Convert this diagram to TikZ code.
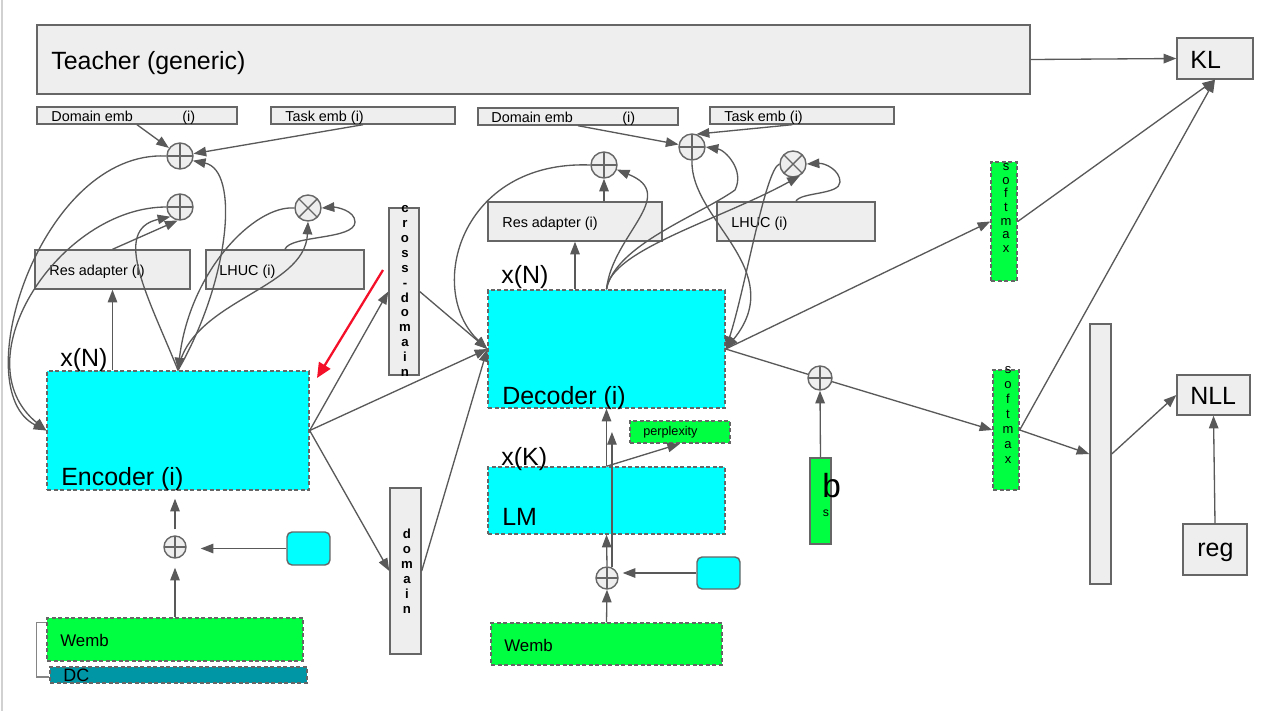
\documentclass[tikz,border=0pt]{standalone}
\usepackage{fontspec}
\setmainfont{Liberation Sans}
\usetikzlibrary{arrows.meta,calc}
\definecolor{lfill}{HTML}{EEEEEE}
\definecolor{bgray}{HTML}{666666}
\definecolor{agray}{HTML}{595959}
\definecolor{cyanc}{HTML}{00FFFF}
\definecolor{greenc}{HTML}{00FF40}
\definecolor{tealc}{HTML}{0096A5}
\definecolor{redc}{HTML}{F5102A}
\begin{document}
\begin{tikzpicture}[x=0.02cm,y=-0.02cm,
 box/.style={draw=bgray, line width=0.8pt, fill=lfill, inner sep=0, rectangle},
 dbox/.style={draw=bgray, line width=0.8pt, dash pattern=on 2.4pt off 1.3pt, inner sep=0, rectangle},
 arr/.style={draw=agray, line width=0.75pt, -{Triangle[length=7.2pt,width=5.4pt]}},
 ln/.style={draw=agray, line width=0.75pt},
 redarr/.style={draw=redc, line width=1.3pt, -{Triangle[length=8.5pt,width=7.5pt]}},
 big/.style={font=\fontsize{14.2}{17}\selectfont, inner sep=0, anchor=base west},
 sm/.style={font=\fontsize{8.2}{10}\selectfont, inner sep=0, anchor=base west},
 mid/.style={font=\fontsize{9.6}{11}\selectfont, inner sep=0, anchor=base west},
 vbold/.style={font=\fontsize{7.5}{8.5}\selectfont\bfseries, align=center, inner sep=0},
 circ/.style={circle, draw=bgray, fill=lfill, line width=0.8pt, inner sep=0, minimum size=0.52cm},
 oplus/.style={circ, path picture={\draw[bgray, line width=0.8pt] (path picture bounding box.north) -- (path picture bounding box.south) (path picture bounding box.west) -- (path picture bounding box.east);}},
 otimes/.style={circ, path picture={\draw[bgray, line width=0.8pt] (path picture bounding box.north west) -- (path picture bounding box.south east) (path picture bounding box.north east) -- (path picture bounding box.south west);}},
]
\useasboundingbox (0,0) rectangle (1285,711);
\fill[white] (0,0) rectangle (1285,711);
\draw[black!18, line width=0.8pt] (2,0) -- (2,711);

% top row
\node[box, minimum width=19.86cm, minimum height=1.38cm] (teacher) at (533.5,59.5) {};
\node[big] (teachert) at (51,69) {Teacher (generic)};
\node[box, minimum width=1.52cm, minimum height=0.82cm] (kl) at (1215,58.5) {};
\node[big] (klt) at (1190,68) {KL};

\node[box, minimum width=4cm, minimum height=0.34cm] (domL) at (137,115.5) {};
\node[sm] (domLt) at (51,121) {Domain emb};
\node[sm] (domLi) at (182,121) {(i)};
\node[box, minimum width=3.68cm, minimum height=0.34cm] (taskL) at (363,115.5) {};
\node[sm] (taskLt) at (285,121) {Task emb (i)};
\node[box, minimum width=4cm, minimum height=0.34cm] (domR) at (578,116.5) {};
\node[sm] (domRt) at (491,122) {Domain emb};
\node[sm] (domRi) at (622,122) {(i)};
\node[box, minimum width=3.68cm, minimum height=0.34cm] (taskR) at (802,115.5) {};
\node[sm] (taskRt) at (724,121) {Task emb (i)};

% circles
\node[oplus] (o1) at (180,156) {};
\node[oplus] (o2) at (180,207) {};
\node[otimes] (x1) at (308,208) {};
\node[oplus] (o3) at (604,165) {};
\node[oplus] (o4) at (692,147) {};
\node[otimes] (x2) at (793,164) {};
\node[oplus, minimum size=0.44cm] (oe) at (175,547) {};
\node[oplus, minimum size=0.44cm] (od) at (607,578) {};
\node[oplus, minimum size=0.48cm] (ob) at (820,378) {};

% adapters
\node[box, minimum width=3.1cm, minimum height=0.78cm] (resL) at (112.5,269.5) {};
\node[sm] (resLt) at (49,275) {Res adapter (i)};
\node[box, minimum width=3.16cm, minimum height=0.78cm] (lhucL) at (285,269.5) {};
\node[sm] (lhucLt) at (219,275) {LHUC (i)};
\node[box, minimum width=3.48cm, minimum height=0.78cm] (resR) at (575,221.5) {};
\node[sm] (resRt) at (502,227) {Res adapter (i)};
\node[box, minimum width=3.16cm, minimum height=0.78cm] (lhucR) at (796,221.5) {};
\node[sm] (lhucRt) at (731,227) {LHUC (i)};

% vertical boxes
\node[box, minimum width=0.6cm, minimum height=3.34cm] (cross) at (404,291.5) {};
\node[vbold] (crosst) at (405,291) {c\\r\\o\\s\\s\\-\\d\\o\\m\\a\\i\\n};
\node[box, minimum width=0.62cm, minimum height=3.32cm] (domain) at (405.5,571) {};
\node[vbold] (domaint) at (407,571) {d\\o\\m\\a\\i\\n};

% encoder / decoder / LM
\node[dbox, fill=cyanc, minimum width=5.24cm, minimum height=2.38cm] (enc) at (178,430.5) {};
\node[big] (encN) at (60,366) {x(N)};
\node[big] (enct) at (61,485) {Encoder (i)};
\node[dbox, fill=cyanc, minimum width=4.74cm, minimum height=2.36cm] (dec) at (606.5,349) {};
\node[big] (decN) at (501,283) {x(N)};
\node[big] (dect) at (502,404) {Decoder (i)};
\node[dbox, fill=cyanc, minimum width=4.74cm, minimum height=1.34cm] (lm) at (606.5,500.5) {};
\node[big] (lmK) at (501,465) {x(K)};
\node[big] (lmt) at (502,525) {LM};
\node[dbox, fill=greenc, minimum width=2cm, minimum height=0.44cm] (perp) at (680,432) {};
\node[font=\fontsize{7.2}{9}\selectfont, inner sep=0, anchor=west] (perpt) at (643,432.5) {perplexity};

% embeddings
\node[dbox, fill=greenc, minimum width=5.12cm, minimum height=0.86cm] (wembL) at (175,639.5) {};
\node[mid] (wembLt) at (60,646) {Wemb};
\node[dbox, fill=tealc, minimum width=5.14cm, minimum height=0.32cm] (dc) at (178.5,675) {};
\node[font=\fontsize{10.2}{12}\selectfont, inner sep=0, anchor=base west] (dct) at (63,681.5) {DC};
\node[draw=bgray, line width=0.8pt, fill=cyanc, rounded corners=0.1cm, minimum width=0.86cm, minimum height=0.66cm, inner sep=0] (cyanL) at (308.5,548.5) {};
\node[dbox, fill=greenc, minimum width=4.62cm, minimum height=0.84cm] (wembR) at (606.5,644) {};
\node[mid] (wembRt) at (504,651) {Wemb};
\node[draw=bgray, line width=0.8pt, fill=cyanc, rounded corners=0.1cm, minimum width=0.86cm, minimum height=0.64cm, inner sep=0] (cyanR) at (718.5,573) {};

% bias
\node[box, fill=greenc, minimum width=0.42cm, minimum height=1.72cm] (bs) at (820.5,501) {};
\node[font=\fontsize{19}{22}\selectfont, inner sep=0, anchor=base west] (bt) at (822,497) {b};
\node[font=\fontsize{7}{8}\selectfont, inner sep=0] (st) at (826,513) {s};

% softmax and losses
\node[dbox, fill=greenc, minimum width=0.52cm, minimum height=2.38cm] (sm1) at (1004,221.5) {};
\node[font=\fontsize{7.4}{7.8}\selectfont, align=center, inner sep=0] (sm1t) at (1006,208) {s\\o\\f\\t\\m\\a\\x};
\node[dbox, fill=greenc, minimum width=0.52cm, minimum height=2.4cm] (sm2) at (1006,430) {};
\node[font=\fontsize{7.4}{8.5}\selectfont, align=center, inner sep=0] (sm2t) at (1008,415) {s\\o\\f\\t\\m\\a\\x};
\node[box, minimum width=0.42cm, minimum height=5.2cm] (tall) at (1100.5,454) {};
\node[box, minimum width=1.46cm, minimum height=0.8cm] (nll) at (1213.5,395) {};
\node[big] (nllt) at (1190,404) {NLL};
\node[box, minimum width=1.28cm, minimum height=1.02cm] (reg) at (1215,549.5) {};
\node[big] (regt) at (1197,556) {reg};

% bracket
\draw[bgray!80, line width=0.6pt] ($(wembL.north west)+(0,5)$) -- ++(-10,0) |- ($(dc.west)+(0,2)$);

% ---- left connectors
\draw[arr] (domL.south) -- (o1);
\draw[arr] (taskL.south) -- (o1);
\draw[arr] (o1.west) .. controls (40,150) and (-35,390) .. (enc.west);
\draw[arr] (o2.west) .. controls (60,207) and (-40,360) .. (enc.west);
\draw[arr] (enc.north) .. controls (150,300) and (110,230) .. (o2.south west);
\draw[arr] (resL.north) -- (o2.-100);
\draw[arr] (enc.north) .. controls (230,280) and (240,170) .. (o1.-20);
\draw[arr] (x1.west) .. controls (255,205) and (190,270) .. (enc.north);
\draw[arr] (enc.north) .. controls (190,300) and (305,290) .. (x1.south);
\draw[arr] (lhucL.north) .. controls (290,235) and (355,240) .. (355,222) .. controls (355,210) and (335,207) .. (x1.east);
\draw[arr] (resL.south |- enc.north) -- (resL.south);

% ---- right connectors
\draw[arr] (domR.south) -- (o4);
\draw[arr] ($(taskR.south west)+(83,0)$) -- (o4.70);
\draw[arr] (o3 |- resR.north) -- (o3.south);
\draw[arr] (resR.south |- dec.north) -- (resR.south);
\draw[arr] (o3.west) .. controls (460,160) and (425,290) .. (dec.west);
\draw[arr] (dec.north) .. controls (612,235) and (680,195) .. (o3.-20);
\draw[arr] (dec.north) .. controls (615,245) and (700,215) .. (735,190) .. controls (745,170) and (725,150) .. (o4.east);
\draw[arr] (dec.north) .. controls (610,250) and (720,220) .. (x2.-60);
\draw[arr] (o4.south) .. controls (690,220) and (790,270) .. (dec.east);
\draw[arr] (x2.west) .. controls (765,170) and (745,290) .. (dec.east);
\draw[arr] (lhucR.north) .. controls (800,192) and (840,195) .. (840,182) .. controls (840,170) and (825,163) .. (x2.east);

% ---- encoder outputs
\draw[arr] (enc.east) -- (cross.west);
\draw[arr] (enc.east) -- (dec.west);
\draw[arr] (enc.east) -- (domain.west);
\draw[arr] (cross.east) -- (dec.west);
\draw[arr] (domain.east) -- (dec.west);
\coordinate (redA) at (383,270);
\coordinate (redB) at (317,378);
\draw[redarr] (redA) -- (redB);

% ---- decoder outputs
\draw[ln] (dec.east) -- (ob);
\draw[arr] (ob) -- (sm2.west);
\draw[arr] (bs.north) -- (ob.south);
\draw[arr] (dec.east) -- (sm1.west);
\draw[arr] (sm1.east) -- (kl.south);
\draw[arr] (sm2.east) -- (kl.south);
\draw[arr] (sm2.east) -- (tall.west);
\draw[arr] (tall.east) -- (nll.west);
\draw[arr] (reg.north) -- (nll.south);
\draw[arr] (teacher.east) -- (kl.west);

% ---- input chains
\draw[arr, shorten >=0.18cm] (wembL.north) -- (oe.south);
\draw[arr, shorten <=0.12cm, shorten >=0.16cm] (oe.north) -- (oe |- enc.south);
\draw[arr, shorten >=0.28cm] (cyanL.west) -- (cyanL.west -| oe.east);
\draw[arr] (wembR.north) -- (od.south);
\draw[arr] (od.north) -- (lm.south);
\draw[arr] (cyanR.west) -- ($(cyanR.west -| od.east)+(4,0)$);
\coordinate (ppTip) at (613,432);
\draw[arr] (od.65) -- (od.65 |- ppTip);
\draw[arr] (lm.north) -- (dec.south);
\draw[arr] (lm.north) -- (perp.south);
\end{tikzpicture}
\end{document}
